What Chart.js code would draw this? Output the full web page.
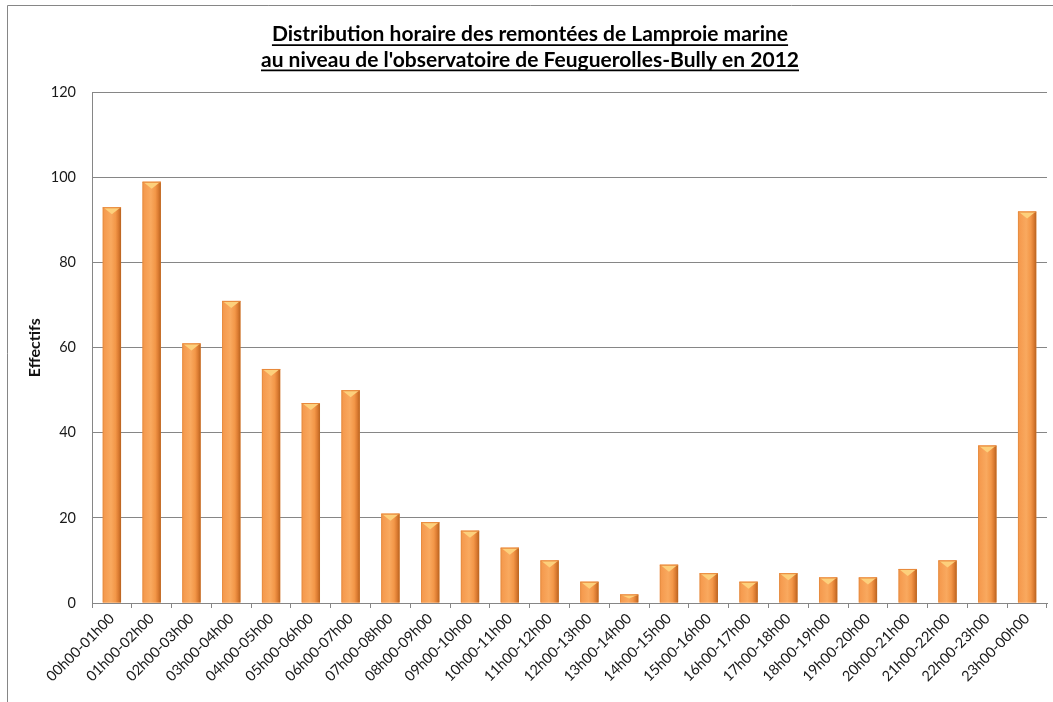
<!DOCTYPE html>
<html lang="fr">
<head>
  <meta charset="UTF-8">
  <title>Distribution horaire des remontées de Lamproie marine</title>
  <script src="https://cdn.jsdelivr.net/npm/chart.js"></script>
  <style>
    html, body { margin: 0; padding: 0; background: #fff; }
    #wrap { width: 1053px; height: 702px; position: relative; }
  </style>
</head>
<body>
  <div id="wrap"><canvas id="graph"></canvas></div>

  <script>
    // Tranches horaires et effectifs de lamproies comptés
    const tranches = ['00h00-01h00', '01h00-02h00', '02h00-03h00', '03h00-04h00', '04h00-05h00', '05h00-06h00',
      '06h00-07h00', '07h00-08h00', '08h00-09h00', '09h00-10h00', '10h00-11h00', '11h00-12h00',
      '12h00-13h00', '13h00-14h00', '14h00-15h00', '15h00-16h00', '16h00-17h00', '17h00-18h00',
      '18h00-19h00', '19h00-20h00', '20h00-21h00', '21h00-22h00', '22h00-23h00', '23h00-00h00'];
    const effectifs = [93, 99, 61, 71, 55, 47, 50, 21, 19, 17, 13, 10, 5, 2, 9, 7, 5, 7, 6, 6, 8, 10, 37, 92];
    const graduations = [0, 20, 40, 60, 80, 100, 120];

    const titre = ['Distribution horaire des remontées de Lamproie marine',
      "au niveau de l'observatoire de Feuguerolles-Bully en 2012"];

    const police = 'Lato, "Open Sans", sans-serif';
    const gris = '#868686';

    // fond blanc + cadre gris du graphique
    const cadre = {
      id: 'cadre',
      beforeDraw(chart) {
        const ctx = chart.ctx;
        ctx.save();
        ctx.fillStyle = '#fff';
        ctx.fillRect(0, 0, chart.width, chart.height);
        ctx.strokeStyle = gris;
        ctx.lineWidth = 1;
        ctx.beginPath();
        ctx.moveTo(7.5, chart.height);
        ctx.lineTo(7.5, 5.5);
        ctx.lineTo(chart.width, 5.5);
        ctx.stroke();
        ctx.restore();
      }
    };

    // souligne chaque ligne du titre
    const soulignage = {
      id: 'soulignage',
      afterDraw(chart) {
        const tb = chart.titleBlock;
        if (!tb) return;
        const opts = tb.options;
        const ctx = chart.ctx;
        const size = opts.font.size;
        const lh = size * opts.font.lineHeight;
        const cx = (tb.left + tb.right) / 2;
        ctx.save();
        ctx.font = `bold ${size}px ${police}`;
        ctx.strokeStyle = '#000';
        ctx.lineWidth = 1.8;
        titre.forEach((ligne, i) => {
          const w = ctx.measureText(ligne).width;
          const y = tb.top + opts.padding.top + lh * i + lh / 2 + size * 0.5;
          ctx.beginPath();
          ctx.moveTo(cx - w / 2, y);
          ctx.lineTo(cx + w / 2, y);
          ctx.stroke();
        });
        ctx.restore();
      }
    };

    // effet biseauté des barres : ombrage latéral et triangle clair en tête
    const biseau = {
      id: 'biseau',
      afterDatasetsDraw(chart) {
        const ctx = chart.ctx;
        const meta = chart.getDatasetMeta(0);
        ctx.save();
        meta.data.forEach(bar => {
          const { x, y, base, width } = bar.getProps(['x', 'y', 'base', 'width'], true);
          const l = x - width / 2, r = x + width / 2, h = base - y;
          const g = ctx.createLinearGradient(l, 0, r, 0);
          g.addColorStop(0, '#e0863a');
          g.addColorStop(0.08, '#f59a4e');
          g.addColorStop(0.45, '#f9a95f');
          g.addColorStop(0.7, '#f39748');
          g.addColorStop(0.85, '#dd7d33');
          g.addColorStop(1, '#b8631f');
          ctx.fillStyle = g;
          ctx.fillRect(l, y, width, h);
          // triangle clair au sommet
          const th = Math.min(7, h / 2);
          ctx.fillStyle = '#fdd07c';
          ctx.beginPath();
          ctx.moveTo(l + 1, y + 0.5);
          ctx.lineTo(r - 1, y + 0.5);
          ctx.lineTo(x, y + th);
          ctx.closePath();
          ctx.fill();
          // liseré du haut
          ctx.fillStyle = '#e8893c';
          ctx.fillRect(l, y, width, 1);
        });
        ctx.restore();
      }
    };

    const ctx = document.getElementById('graph').getContext('2d');
    new Chart(ctx, {
      type: 'bar',
      data: {
        labels: tranches,
        datasets: [{
          label: 'Effectifs',
          data: effectifs,
          backgroundColor: '#f79646',
          borderWidth: 0,
          barPercentage: 0.46,
          categoryPercentage: 1
        }]
      },
      options: {
        responsive: true,
        maintainAspectRatio: false,
        animation: false,
        layout: { padding: { left: 13, right: 6, top: 0, bottom: 0 } },
        plugins: {
          legend: { display: false },
          tooltip: { enabled: false },
          title: {
            display: true,
            text: titre,
            color: '#000',
            font: { family: police, size: 21, weight: 'bold', lineHeight: 1.2 },
            padding: { top: 22, bottom: 20 }
          }
        },
        scales: {
          x: {
            grid: {
              offset: true,
              drawOnChartArea: false,
              drawTicks: true,
              tickLength: 5,
              color: gris
            },
            border: { color: gris },
            ticks: {
              color: '#1a1a1a',
              font: { family: police, size: 14.5 },
              minRotation: 45,
              maxRotation: 45,
              autoSkip: false,
              padding: 2
            },
            afterFit(scale) { scale.height = 99; }
          },
          y: {
            min: 0,
            max: 120,
            afterBuildTicks(scale) { scale.ticks = graduations.map(v => ({ value: v })); },
            grid: { color: gris, drawTicks: false },
            border: { color: gris },
            ticks: {
              color: '#1a1a1a',
              font: { family: police, size: 14.5 },
              padding: 16
            },
            title: {
              display: true,
              text: 'Effectifs',
              color: '#111',
              font: { family: police, size: 16, weight: 'bold' },
              padding: { top: 12, bottom: 0 }
            },
            afterFit(scale) { scale.width = 79; }
          }
        }
      },
      plugins: [cadre, biseau, soulignage]
    });
  </script>
</body>
</html>
